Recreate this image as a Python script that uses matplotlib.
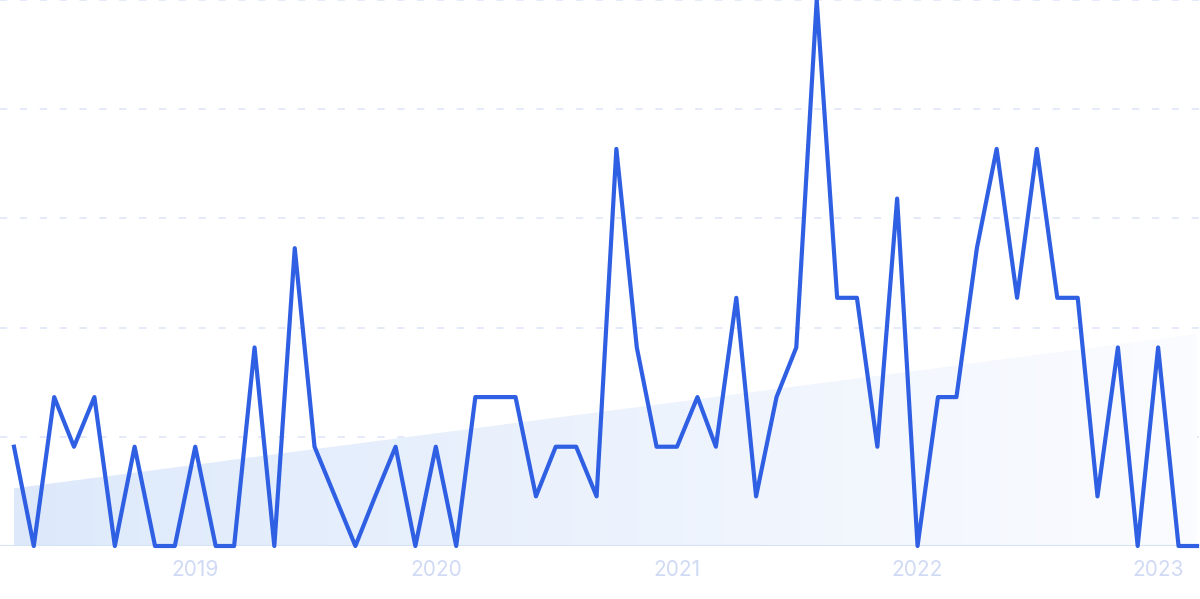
import numpy as np
import pandas as pd
import matplotlib.pyplot as plt
import matplotlib.dates as mdates
from matplotlib.patches import Polygon
from matplotlib.colors import LinearSegmentedColormap

plt.rcParams['font.family'] = ['Inter', 'DejaVu Sans']

months = pd.date_range("2018-04-01", "2023-03-01", freq="MS")
counts = [2, 0, 3, 2, 3, 0, 2, 0, 0, 2, 0, 0,
          4, 0, 6, 2, 1, 0, 1, 2, 0, 2, 0, 3,
          3, 3, 1, 2, 2, 1, 8, 4, 2, 2, 3, 2,
          5, 1, 3, 4, 11, 5, 5, 2, 7, 0, 3, 3,
          6, 8, 5, 8, 5, 5, 1, 4, 0, 4, 0, 0]
year_ticks = ["2019", "2020", "2021", "2022", "2023"]

x = mdates.date2num(months)
y = np.array(counts, dtype=float)
ymax = 11

fig = plt.figure(figsize=(12, 5.99), dpi=100)
ax = fig.add_axes([0, 53 / 599, 1, 546 / 599])

ax.set_xlim(x[0] - 14 / 20.04 * 30.4, x[-1] + 3 / 20.04 * 30.4)
ax.set_ylim(0, ymax)

# trend area with fading gradient
k, b = np.polyfit(np.arange(len(y)), y, 1)
trend = k * np.arange(len(y)) + b
verts = [(x[0], 0)] + list(zip(x, trend)) + [(x[-1], 0)]
poly = Polygon(verts, closed=True, facecolor='none', edgecolor='none')
ax.add_patch(poly)
cmap = LinearSegmentedColormap.from_list("fade", ["#dde9fb", "#fbfcff"])
grad = np.linspace(0, 1, 256).reshape(1, -1)
im = ax.imshow(grad, cmap=cmap, aspect='auto', extent=[x[0], x[-1], 0, ymax],
               origin='lower', zorder=1)
im.set_clip_path(poly)

# grid
for g in np.linspace(0, ymax, 6)[1:]:
    ax.axhline(g, color='#e2e8fa', lw=1.3, dashes=(4, 7), zorder=0)
ax.axhline(0, color='#d6e3f7', lw=1.5, zorder=2)

ax.plot(x, y, color='#2f5fe3', lw=3.0, zorder=3, clip_on=False)

ax.set_xticks(mdates.date2num(pd.to_datetime([t + "-01-01" for t in year_ticks])))
ax.set_xticklabels(year_ticks)
ax.tick_params(axis='x', length=0, pad=10, labelsize=15, labelcolor='#d0daf5')
ax.set_yticks([])
for s in ax.spines.values():
    s.set_visible(False)

fig.savefig("out.png", dpi=100)
